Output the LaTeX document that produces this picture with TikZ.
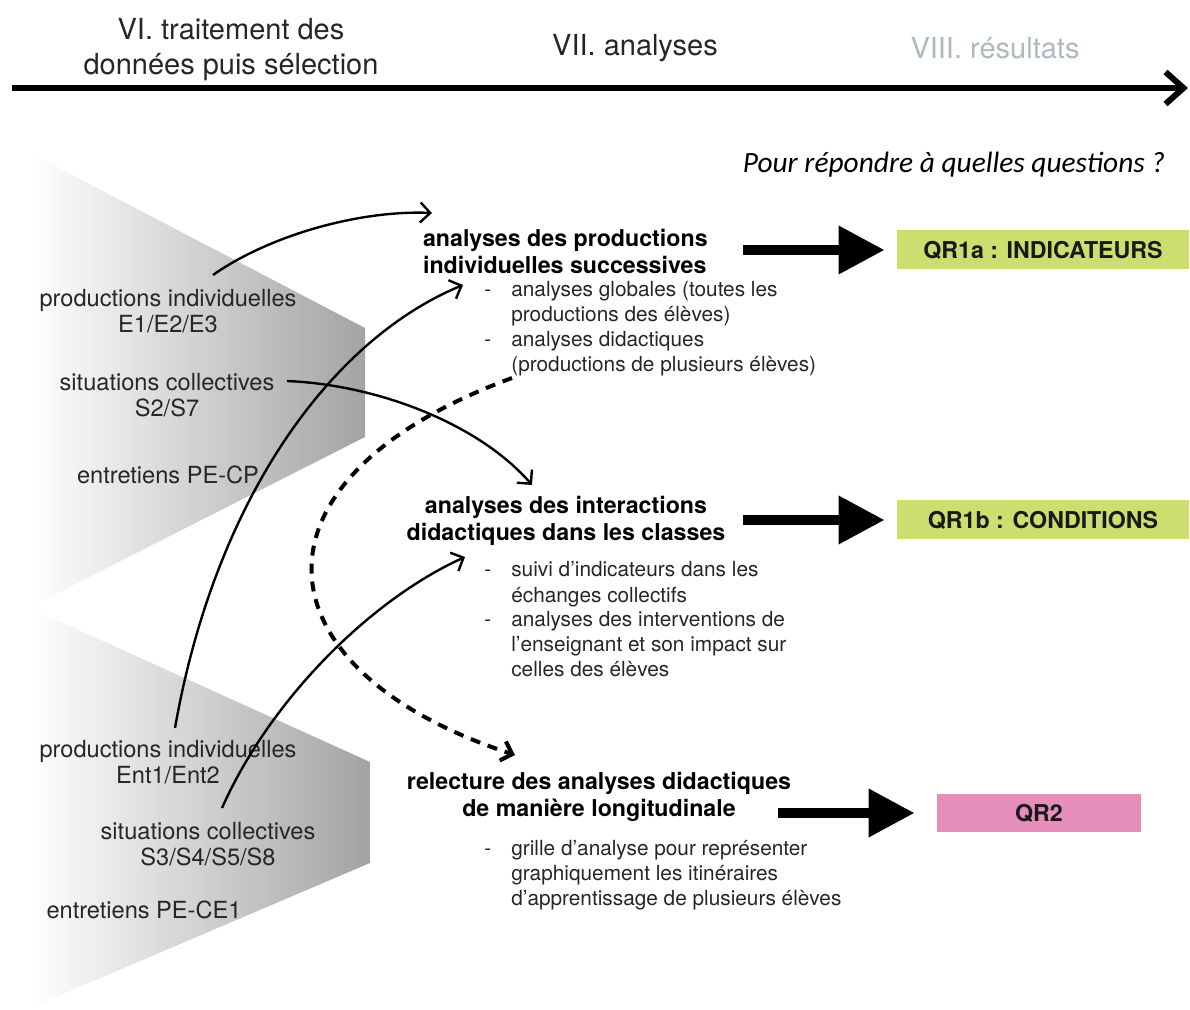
\documentclass[tikz,border=0pt]{standalone}
\usepackage{fontspec}
\setmainfont{TeX Gyre Heros}
\newfontfamily\qfont{Carlito}
\usetikzlibrary{arrows.meta,positioning}
\definecolor{qgreen}{RGB}{206,221,112}
\definecolor{qpink}{RGB}{230,142,188}
\definecolor{faded}{RGB}{172,186,192}

\begin{document}
\begin{tikzpicture}[x=0.5pt, y=-0.5pt,
        src/.style = {align=center, text=black!85, font=\fontsize{11.8}{13}\selectfont},
        phase/.style = {align=center, text=black!85, font=\fontsize{14.5}{17.5}\selectfont},
        head/.style = {align=center, font=\bfseries\fontsize{11.6}{13.5}\selectfont},
        bul/.style = {anchor=west, text=black!85, font=\fontsize{10.4}{12.5}\selectfont, inner sep=0pt},
        qr/.style = {minimum width=146pt, minimum height=19.5pt, inner sep=0pt, font=\bfseries\fontsize{11.6}{13}\selectfont, text=black!90},
        link/.style = {line width=1.2pt, -{Straight Barb[length=5pt,width=10pt]}},
        big/.style = {line width=5pt, -{Triangle[length=23pt,width=23pt]}}]
    \useasboundingbox (0,0) rectangle (1190,1010);
    %% Background
    \shade[left color=white, right color=black!36] (30,153) -- (365,328) -- (365,437) -- (30,607) -- cycle;
    \shade[left color=white, right color=black!36] (30,608) -- (370,762) -- (370,863) -- (30,1008) -- cycle;
    %% Timeline
    \node[phase] (p6) at (231,50) {VI. traitement des\\données puis sélection};
    \node[phase] (p7) at (635,48) {VII. analyses};
    \node[phase, text=faded] (p8) at (995,48) {VIII. résultats};
    \coordinate (t0) at (12,88);
    \coordinate (t1) at (1188,88);
    \draw[line width=3pt, -{Straight Barb[length=9pt,width=16pt]}] (t0) -- (t1);
    \node[font=\qfont\itshape\fontsize{14.7}{16}\selectfont] (qq) at (954,165) {Pour répondre à quelles questions ?};
    %% Data
    \node[src] (pi1) at (168,311) {productions individuelles\\E1/E2/E3};
    \node[src] (sc1) at (167,395) {situations collectives\\S2/S7};
    \node[src] (en1) at (168,475) {entretiens PE-CP};
    \node[src] (pi2) at (168,762) {productions individuelles\\Ent1/Ent2};
    \node[src] (sc2) at (208,844) {situations collectives\\S3/S4/S5/S8};
    \node[src] (en2) at (144,910) {entretiens PE-CE1};
    %% Analyses
    \node[head, align=left, anchor=west] (ap) at (416,251) {analyses des productions\\individuelles successives};
    \node[bul] (bp) at (484,329) {\begin{tabular}{@{}l@{\hspace{10pt}}l@{}}
        - & analyses globales (toutes les\\
          & productions des élèves)\\
        - & analyses didactiques\\
          & (productions de plusieurs élèves)\end{tabular}};
    \node[head] (ai) at (566,521) {analyses des interactions\\didactiques dans les classes};
    \node[bul] (bi) at (484,622) {\begin{tabular}{@{}l@{\hspace{10pt}}l@{}}
        - & suivi d’indicateurs dans les\\
          & échanges collectifs\\
        - & analyses des interventions de\\
          & l’enseignant et son impact sur\\
          & celles des élèves\end{tabular}};
    \node[head] (rl) at (599,797) {relecture des analyses didactiques\\de manière longitudinale};
    \node[bul] (br) at (484,875) {\begin{tabular}{@{}l@{\hspace{10pt}}l@{}}
        - & grille d’analyse pour représenter\\
          & graphiquement les itinéraires\\
          & d’apprentissage de plusieurs élèves\end{tabular}};
    %% Results
    \node[qr, fill=qgreen] (q1) at (1043,250) {QR1a : INDICATEURS};
    \node[qr, fill=qgreen] (q2) at (1043,520) {QR1b : CONDITIONS};
    \node[qr, fill=qpink, minimum width=102pt, minimum height=19pt] (q3) at (1039,813) {QR2};
    %% Arrows
    \coordinate (a1) at (743,250);
    \coordinate (a2) at (743,520);
    \coordinate (a3) at (778,813);
    \draw[big, shorten >=6pt] (a1) -- (q1.west);
    \draw[big, shorten >=6pt] (a2) -- (q2.west);
    \draw[big, shorten >=11pt] (a3) -- (q3.west);
    \coordinate (c1) at (213,275);
    \coordinate (d1) at (432,213);
    \coordinate (c2) at (175,728);
    \coordinate (d2) at (463,285);
    \coordinate (c3) at (287,381);
    \coordinate (d3) at (532,485);
    \coordinate (c4) at (222,808);
    \coordinate (d4) at (465,557);
    \coordinate (c5) at (512,378);
    \coordinate (d5) at (515,755);
    \draw[link] (c1) .. controls (270,235) and (360,210) .. (d1);
    \draw[link] (c2) .. controls (215,500) and (330,340) .. (d2);
    \draw[link] (c3) .. controls (380,385) and (480,425) .. (d3);
    \draw[link] (c4) .. controls (270,700) and (370,600) .. (d4);
    \draw[link, line width=2pt, dash pattern=on 5pt off 4pt] (c5) .. controls (235,480) and (255,670) .. (d5);
\end{tikzpicture}
\end{document}
